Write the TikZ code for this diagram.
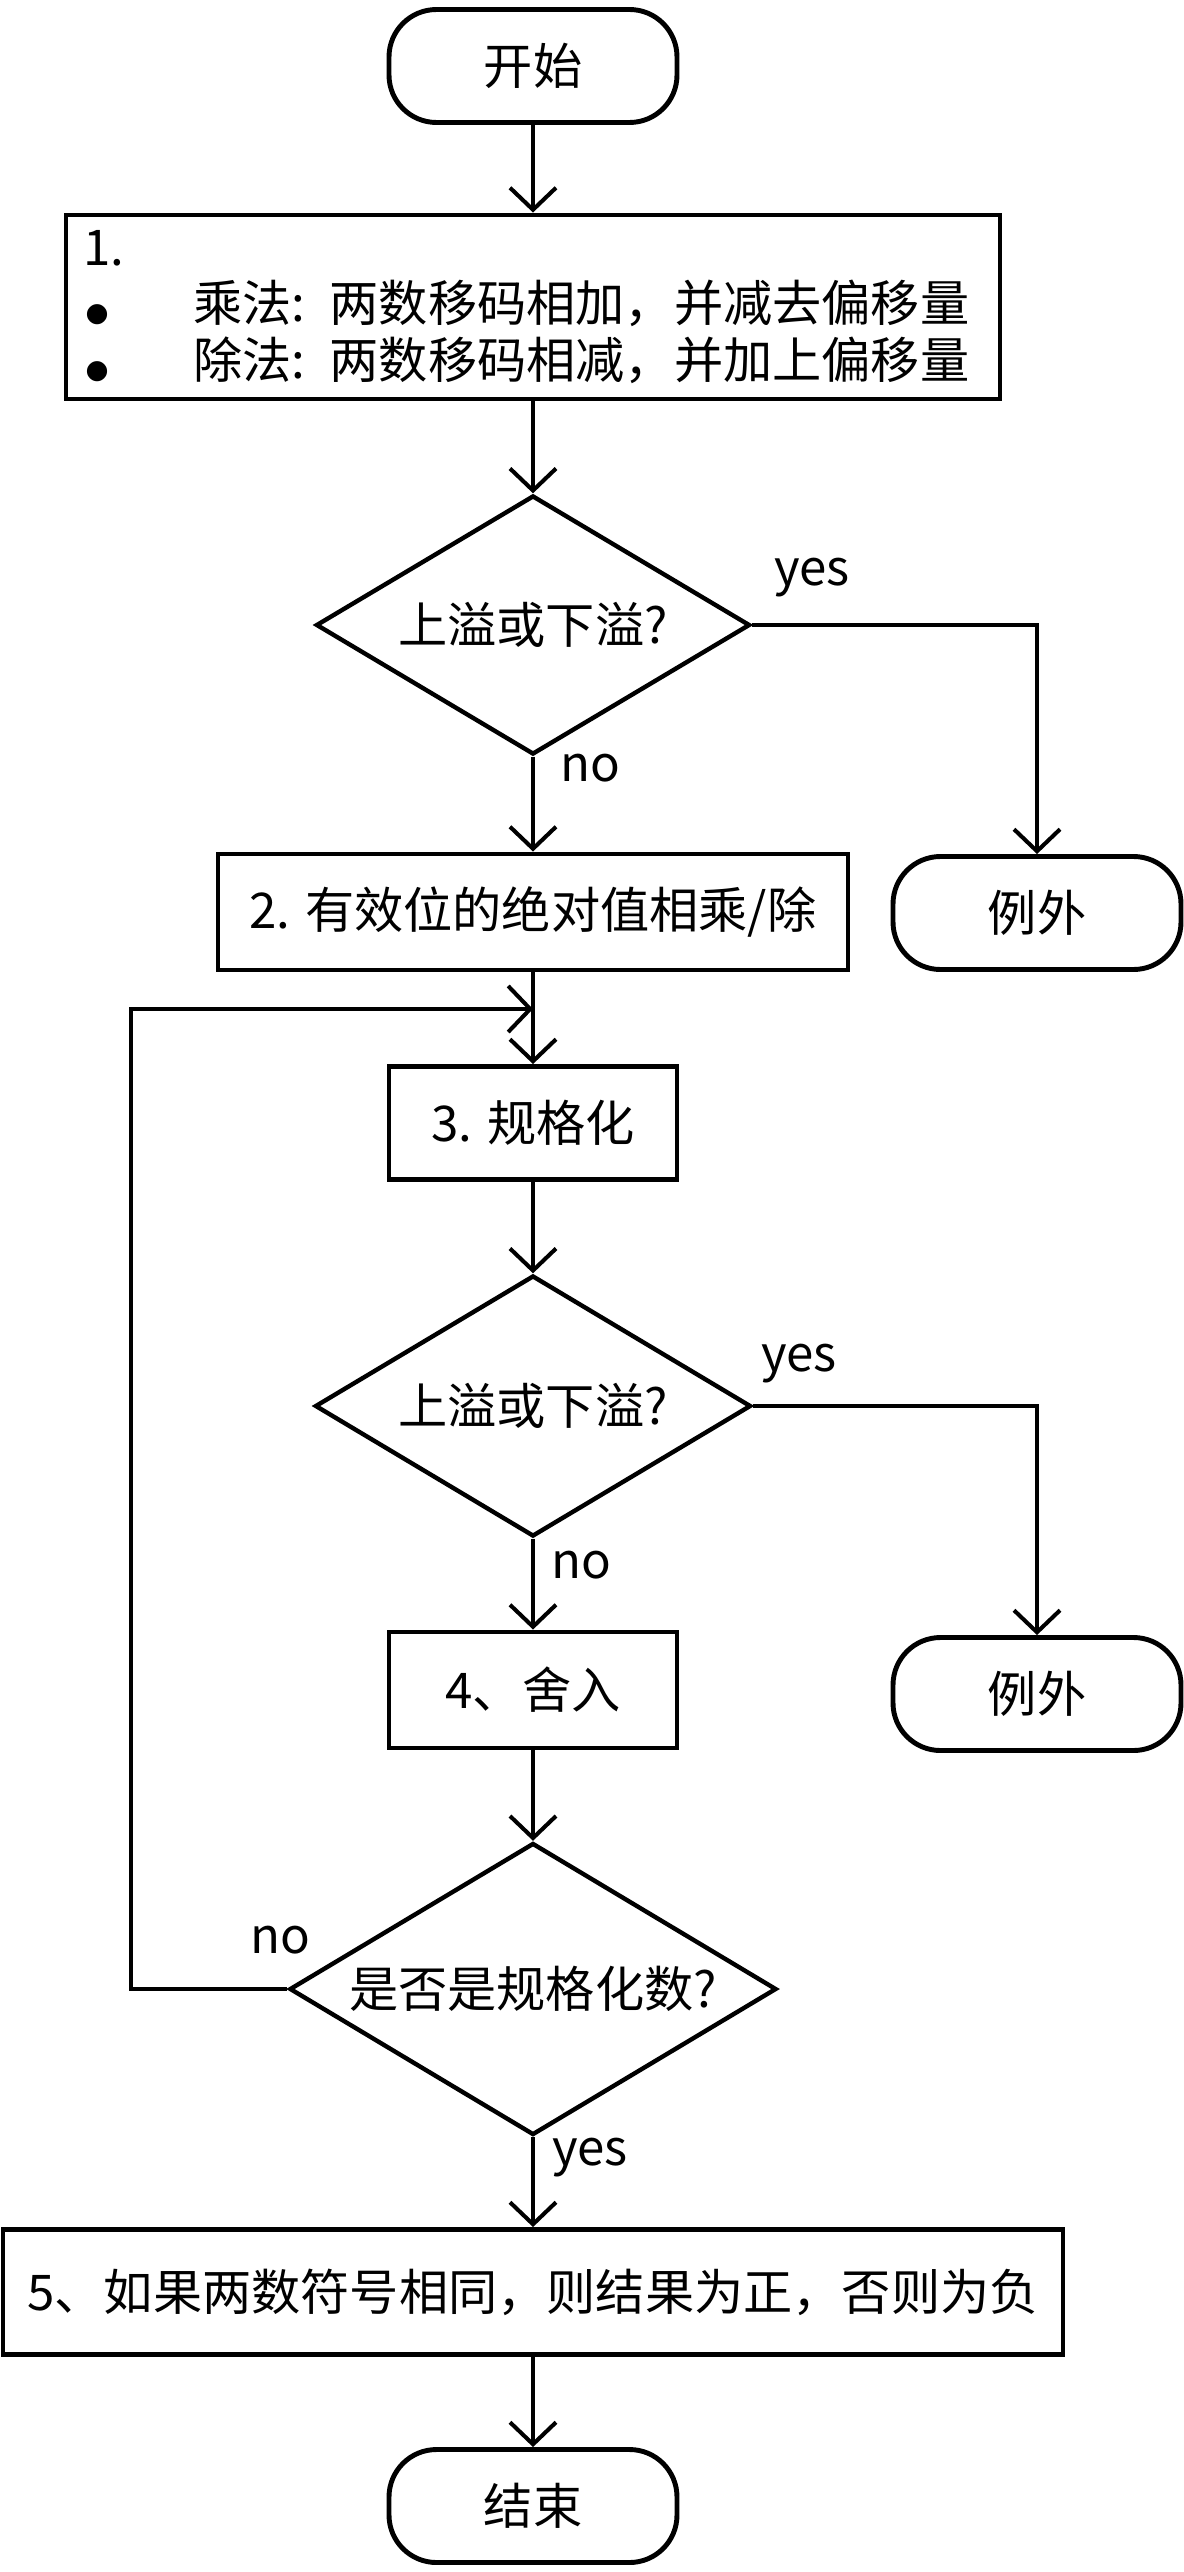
\documentclass[tikz,border=0pt]{standalone}
\usepackage{fontspec}
\setmainfont{Noto Sans CJK SC}
\newfontfamily\symfont{DejaVu Sans}
\usetikzlibrary{shapes.geometric}
\usetikzlibrary{arrows.meta}
\newcommand{\bigdot}{\makebox[2.2cm][l]{\hspace{0.05cm}{\symfont\fontsize{15}{15}\selectfont ●}}}
\tikzstyle{boxline}=[draw=black,line width=2.8pt,inner sep=0pt,font=\fontsize{28}{32}\selectfont]
\tikzstyle{term}=[boxline,rectangle,rounded corners=0.95cm,minimum width=5.76cm,minimum height=2.26cm]
\tikzstyle{proc}=[boxline,rectangle,minimum height=2.32cm]
\tikzstyle{decision}=[boxline,diamond,aspect=1.68,line width=2.5pt]
\tikzstyle{lbl}=[inner sep=0pt,font=\fontsize{28}{32}\selectfont]
\tikzstyle{arr}=[line width=2.3pt,-{Straight Barb[length=0.44cm,width=0.92cm]}]

\begin{document}
\begin{tikzpicture}
		\useasboundingbox (0,0) rectangle (23.68,-51.44);

		\node[term](start) at (10.66,-1.32){开始};
		\node[proc,minimum width=18.68cm,minimum height=3.68cm,align=left,text width=18cm](s1) at (10.66,-6.14){1.\\
			\bigdot 乘法: 两数移码相加，并减去偏移量\\
			\bigdot 除法: 两数移码相减，并加上偏移量};
		\node[decision,minimum width=8.68cm,minimum height=5.18cm](dec1) at (10.66,-12.5){上溢或下溢?};
		\node[term](exc1) at (20.74,-18.26){例外};
		\node[proc,minimum width=12.6cm](s2) at (10.66,-18.24){2. 有效位的绝对值相乘/除};

		\node[proc,minimum width=5.76cm,minimum height=2.26cm](s3) at (10.66,-22.46){3. 规格化};
		\node[decision,minimum width=8.72cm,minimum height=5.22cm](dec2) at (10.66,-28.12){上溢或下溢?};
		\node[term](exc2) at (20.74,-33.88){例外};
		\node[proc,minimum width=5.76cm](s4) at (10.66,-33.8){4、舍入};

		\node[decision,minimum width=9.74cm,minimum height=5.84cm,aspect=1.67](dec3) at (10.66,-39.78){是否是规格化数?};
		\node[proc,minimum width=21.2cm,minimum height=2.5cm](s5) at (10.66,-45.84){5、如果两数符号相同，则结果为正，否则为负};
		\node[term](end) at (10.66,-50.12){结束};

		\coordinate(loopc) at (2.62,-20.18);
		\coordinate(loopj) at (10.66,-20.18);

		\node[lbl](yes1) at (16.24,-11.56){yes};
		\node[lbl](no1) at (11.8,-15.36){no};
		\node[lbl](yes2) at (15.98,-27.28){yes};
		\node[lbl](no2) at (11.62,-31.3){no};
		\node[lbl](no3) at (5.6,-38.8){no};
		\node[lbl](yes3) at (11.8,-43.16){yes};
% start to first check
		\draw[arr] (start) -- (s1);
		\draw[arr] (s1) -- (dec1);
		\draw[arr] (dec1) -- (s2);
		\draw[arr] (dec1.east) -| (exc1);
% normalize and round
		\draw[arr] (s2) -- (s3);
		\draw[arr] (s3) -- (dec2);
		\draw[arr] (dec2) -- (s4);
		\draw[arr] (dec2.east) -| (exc2);
		\draw[arr] (s4) -- (dec3);
% back to normalize
		\draw[arr] (dec3.west) -| (loopc) -- (loopj);
% sign and end
		\draw[arr] (dec3) -- (s5);
		\draw[arr] (s5) -- (end);
	\end{tikzpicture}
\end{document}
